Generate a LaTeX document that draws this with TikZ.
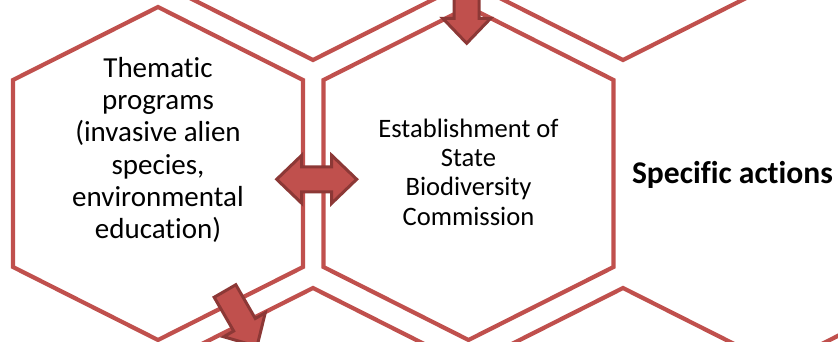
\documentclass[tikz,border=0pt]{standalone}
\usepackage{fontspec}
\setmainfont[RawFeature={-liga}]{Carlito}
\usetikzlibrary{calc}

\definecolor{hexred}{RGB}{192,80,77}
\definecolor{arrowedge}{RGB}{140,56,54}

% Block arrow from #1 to the tip #2
\newcommand{\blockarrow}[2]{%
    \coordinate (ba) at ($(#2)!25pt!(#1)$);
    \draw[arrowbody] ($(#1)!12.5pt!90:(#2)$) -- ($(ba)!12.5pt!-90:(#1)$)
        -- ($(ba)!24pt!-90:(#1)$) -- (#2) -- ($(ba)!24pt!90:(#1)$)
        -- ($(ba)!12.5pt!90:(#1)$) -- ($(#1)!12.5pt!-90:(#2)$) -- cycle;}

% Block arrow with tips at both #1 and #2
\newcommand{\blockdoublearrow}[2]{%
    \coordinate (ba) at ($(#2)!25pt!(#1)$);
    \coordinate (bb) at ($(#1)!25pt!(#2)$);
    \draw[arrowbody] (#1) -- ($(bb)!24pt!90:(#2)$) -- ($(bb)!12.5pt!90:(#2)$)
        -- ($(ba)!12.5pt!-90:(#1)$) -- ($(ba)!24pt!-90:(#1)$) -- (#2)
        -- ($(ba)!24pt!90:(#1)$) -- ($(ba)!12.5pt!90:(#1)$)
        -- ($(bb)!12.5pt!-90:(#2)$) -- ($(bb)!24pt!-90:(#2)$) -- cycle;}

\begin{document}
\begin{tikzpicture}[x=1pt, y=1pt,
        hexline/.style={draw=hexred, line width=4.2pt, line join=miter},
        arrowbody/.style={fill=hexred, draw=arrowedge, line width=3pt, line join=miter},
        cell/.style={align=center, inner sep=0pt},
        hexcell/.pic={\draw[hexline] (0,166.5) -- (145,93.5) -- (145,-93.5)
            -- (0,-166.5) -- (-145,-93.5) -- (-145,93.5) -- cycle;}
    ]
        \clip (0,0) rectangle (838,341);

        % Honeycomb cells
        \pic at (313,447.5) {hexcell};
        \pic at (623,447.5) {hexcell};
        \pic at (158,167.5) {hexcell};
        \pic at (468.5,167.5) {hexcell};
        \pic at (313,-113.5) {hexcell};
        \pic at (623,-113.5) {hexcell};
        \pic at (933,-113.5) {hexcell};

        % Texts
        \node[cell, font=\fontsize{29}{32.2}\selectfont] (thematic) at (158,191)
            {Thematic\\programs\\(invasive alien\\species,\\environmental\\education)};
        \node[cell, font=\fontsize{26.6}{29.3}\selectfont] (commission) at (468.5,169)
            {Establishment of\\State\\Biodiversity\\Commission};
        \node[cell, font=\bfseries\fontsize{31.6}{36}\selectfont] (specific) at (732.5,166)
            {Specific actions};

        % Arrow ends
        \coordinate (dl) at (276.7,161.7);
        \coordinate (dr) at (356.7,161.7);
        \coordinate (topsrc) at (466.7,360);
        \coordinate (toptip) at (466.7,297.7);
        \coordinate (diagsrc) at (225,50);
        \coordinate (diagtip) at (257,-5.4);

        % Draw the block arrows
        \blockdoublearrow{dl}{dr}
        \blockarrow{topsrc}{toptip}
        \blockarrow{diagsrc}{diagtip}

    \end{tikzpicture}
\end{document}
